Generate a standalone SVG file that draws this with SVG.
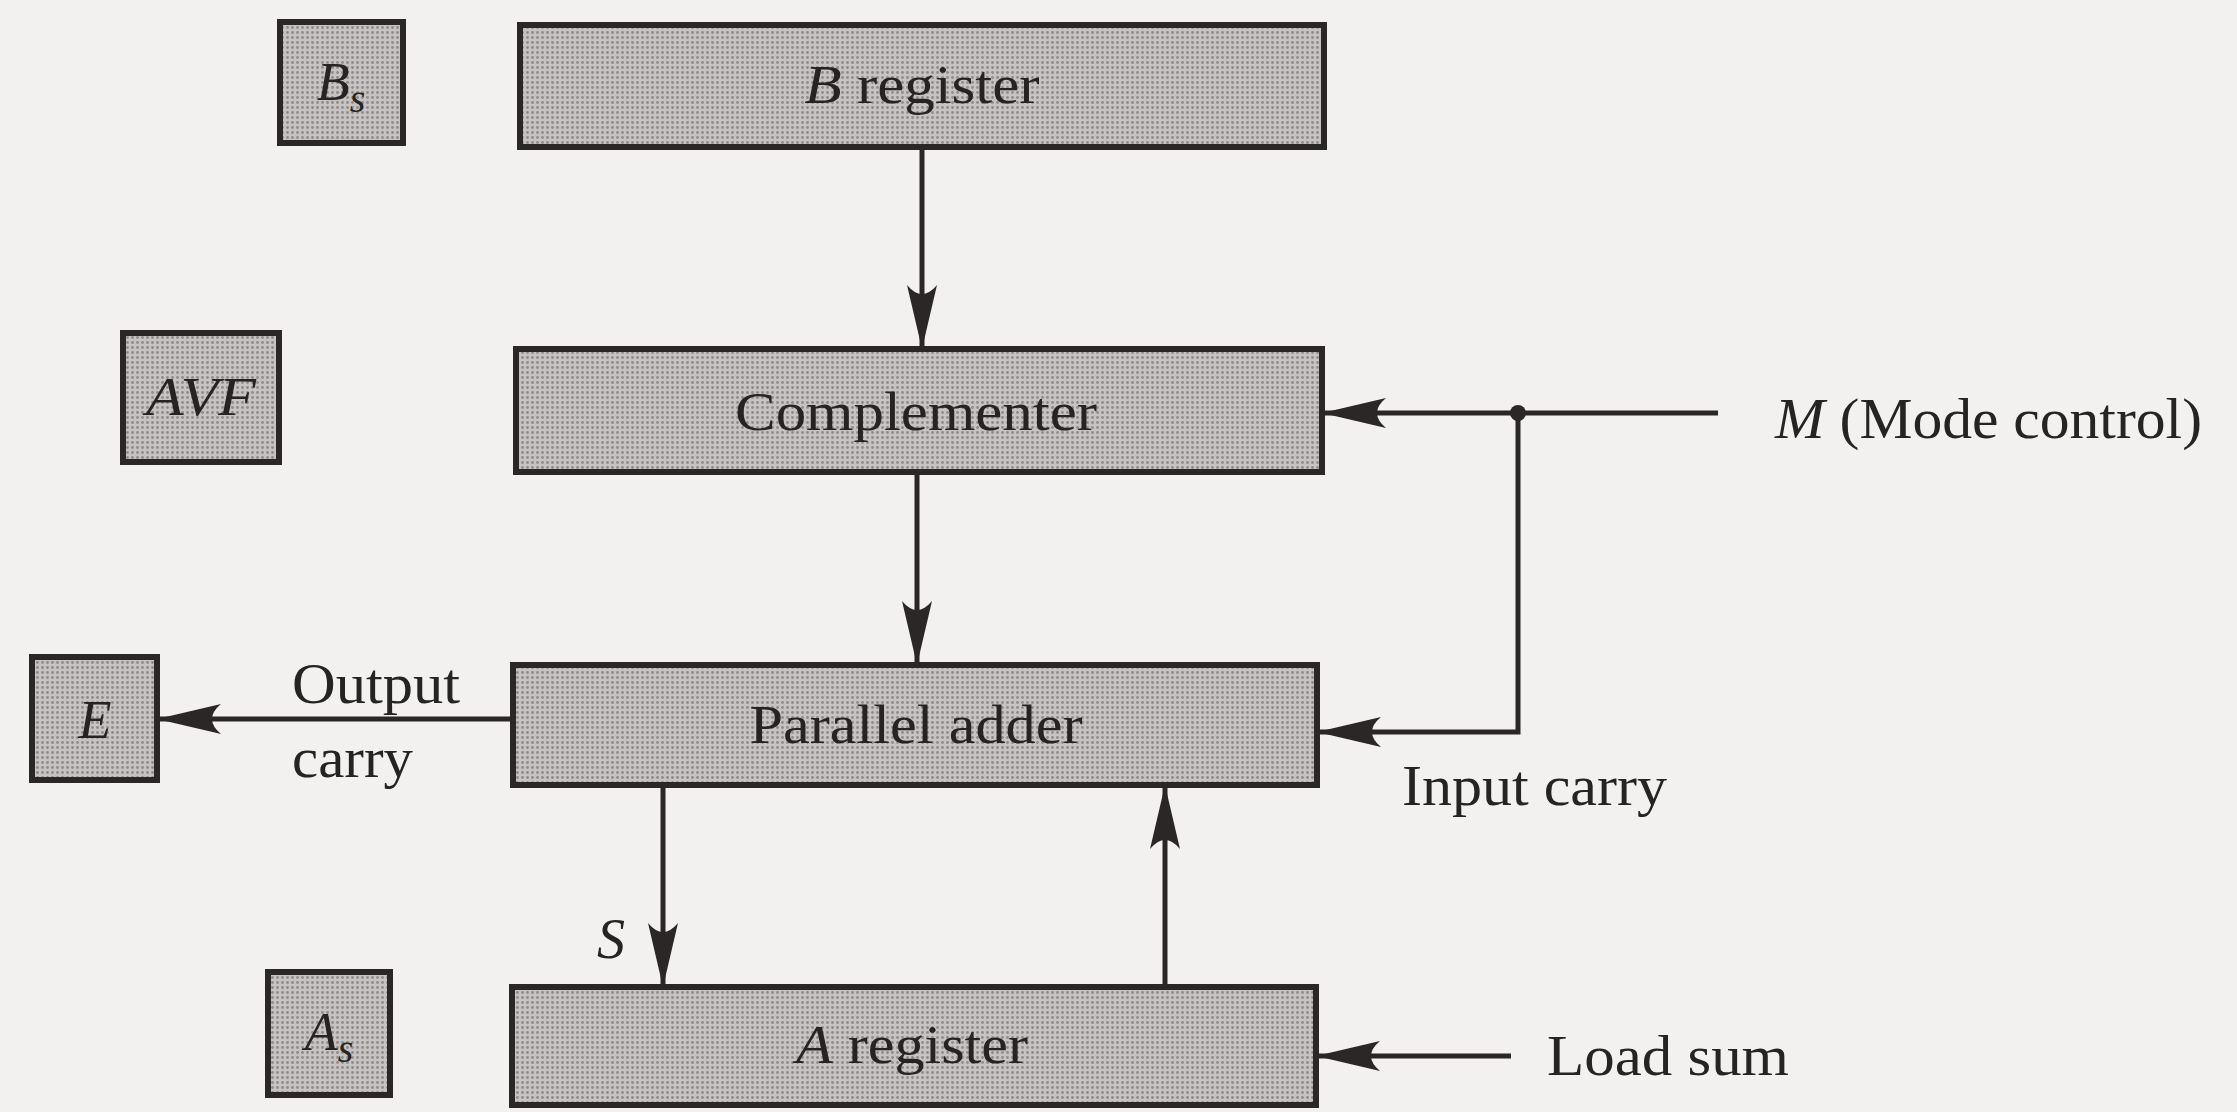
<svg xmlns="http://www.w3.org/2000/svg" width="2237" height="1112" viewBox="0 0 2237 1112">
  <style>
    .box { fill: url(#screen); stroke: #2b2727; stroke-width: 6; }
    .t { font-family: "Liberation Serif", "Times New Roman", serif; fill: #262323; }
    .bt { font-size: 54px; text-anchor: middle; }
    .lbl { font-size: 56px; }
    .it { font-style: italic; }
    .wire { stroke: #2b2727; stroke-width: 5; fill: none; }
  </style>
  <defs>
    <pattern id="screen" width="5" height="5" patternUnits="userSpaceOnUse">
      <rect width="5" height="5" fill="#c7c3c2"/>
      <circle cx="2.5" cy="2.5" r="1.4" fill="#8f8b8a"/>
    </pattern>
    <marker id="arr" markerUnits="userSpaceOnUse" markerWidth="66" markerHeight="34" refX="64" refY="16" orient="auto">
      <path d="M64,16 L0,1 Q18,16 0,31 Z" fill="#2b2727"/>
    </marker>
  </defs>
  <rect width="2237" height="1112" fill="#f3f1ef"/>

  <g id="node-Bs">
    <rect class="box" x="280" y="22" width="123" height="121"/>
    <text class="t bt it" x="341" y="100">B<tspan font-size="40" dy="12">s</tspan></text>
  </g>
  <g id="node-Breg">
    <rect class="box" x="520" y="25" width="804" height="122"/>
    <text class="t bt" x="922" y="103" textLength="235" lengthAdjust="spacingAndGlyphs"><tspan class="it">B</tspan> register</text>
  </g>
  <g id="node-AVF">
    <rect class="box" x="123" y="333" width="156" height="129"/>
    <text class="t bt it" x="201" y="415" textLength="110" lengthAdjust="spacingAndGlyphs">AVF</text>
  </g>
  <g id="node-Comp">
    <rect class="box" x="516" y="349" width="806" height="123"/>
    <text class="t bt" x="916" y="430" textLength="362" lengthAdjust="spacingAndGlyphs">Complementer</text>
  </g>
  <g id="node-E">
    <rect class="box" x="32" y="657" width="125" height="123"/>
    <text class="t bt it" x="95" y="738">E</text>
  </g>
  <g id="node-Adder">
    <rect class="box" x="513" y="665" width="804" height="120"/>
    <text class="t bt" x="916" y="743" textLength="333" lengthAdjust="spacingAndGlyphs">Parallel adder</text>
  </g>
  <g id="node-As">
    <rect class="box" x="268" y="972" width="122" height="123"/>
    <text class="t bt it" x="329" y="1050">A<tspan font-size="40" dy="12">s</tspan></text>
  </g>
  <g id="node-Areg">
    <rect class="box" x="512" y="987" width="804" height="118"/>
    <text class="t bt" x="912" y="1063" textLength="232" lengthAdjust="spacingAndGlyphs"><tspan class="it">A</tspan> register</text>
  </g>

  <g id="connectors">
    <line class="wire" x1="922" y1="147" x2="922" y2="349" marker-end="url(#arr)"/>
    <line class="wire" x1="917" y1="472" x2="917" y2="665" marker-end="url(#arr)"/>
    <line class="wire" x1="663" y1="785" x2="663" y2="987" marker-end="url(#arr)"/>
    <line class="wire" x1="1165" y1="987" x2="1165" y2="785" marker-end="url(#arr)"/>
    <line class="wire" x1="513" y1="719" x2="157" y2="719" marker-end="url(#arr)"/>
    <line class="wire" x1="1718" y1="413" x2="1322" y2="413" marker-end="url(#arr)"/>
    <polyline class="wire" points="1518,413 1518,732 1317,732" marker-end="url(#arr)"/>
    <line class="wire" x1="1511" y1="1056" x2="1316" y2="1056" marker-end="url(#arr)"/>
    <circle cx="1518" cy="413" r="8" fill="#2b2727"/>
  </g>

  <g id="labels">
    <text class="t lbl" x="292" y="703" textLength="168" lengthAdjust="spacingAndGlyphs">Output</text>
    <text class="t lbl" x="292" y="777" textLength="121" lengthAdjust="spacingAndGlyphs">carry</text>
    <text class="t lbl" x="1402" y="805" textLength="265" lengthAdjust="spacingAndGlyphs">Input carry</text>
    <text class="t lbl" x="1547" y="1075" textLength="242" lengthAdjust="spacingAndGlyphs">Load sum</text>
    <text class="t lbl" x="1775" y="438" textLength="427" lengthAdjust="spacingAndGlyphs"><tspan class="it">M</tspan> (Mode control)</text>
    <text class="t lbl it" x="597" y="958">S</text>
  </g>
</svg>
